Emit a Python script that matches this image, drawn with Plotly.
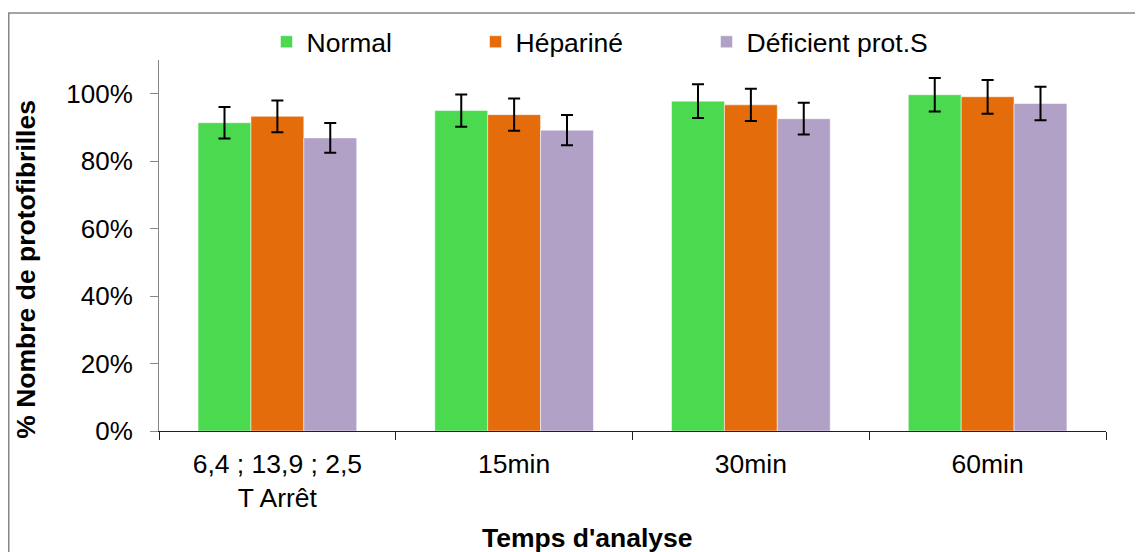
import plotly.graph_objects as go

categories = ["6,4 ; 13,9 ; 2,5<br>T Arrêt", "15min", "30min", "60min"]
series_names = ["Normal", "Hépariné", "Déficient prot.S"]
normal = [0.914, 0.950, 0.978, 0.997]
heparine = [0.933, 0.938, 0.967, 0.991]
deficient = [0.869, 0.892, 0.926, 0.971]
err_normal = [0.047, 0.048, 0.050, 0.050]
err_heparine = [0.047, 0.048, 0.048, 0.050]
err_deficient = [0.044, 0.045, 0.047, 0.050]
colors = ["#4AD94F", "#E46C0A", "#B2A1C7"]
x_title = "<b>Temps d'analyse</b>"
y_title = "<b>% Nombre de protofibrilles</b>"

FONT = "Liberation Sans, Arial, sans-serif"
FS = 26.5
FS_Y = 26

# page body has an 8px margin; work in figure coordinates = screen - 8
OFF = 8
W, H = 1143, 552
L, R, T, B = 159 - OFF, 1143 - (1106 - OFF), 60 - OFF, 552 - (431 - OFF)
pw, ph = W - L - R, H - T - B
x_axis_px = 431 - OFF


def px_x(sx):
    return (sx - OFF - L) / pw


def px_y(sy):
    return (x_axis_px - (sy - OFF)) / ph


legend_ids = ["legend", "legend2", "legend3"]
legend_px = [266.5, 475.5, 706.5]  # screen left pixel of each legend box

fig = go.Figure()
for name, vals, errs, col, lg in zip(series_names, [normal, heparine, deficient],
                                     [err_normal, err_heparine, err_deficient], colors, legend_ids):
    fig.add_trace(go.Bar(
        x=categories, y=vals, name=name, legend=lg,
        marker=dict(color=col, line=dict(color="rgba(255,255,255,0.5)", width=1)),
        error_y=dict(type="data", array=errs, visible=True, color="black",
                     thickness=2, width=6),
    ))

legend_common = dict(orientation="h", xanchor="left", yanchor="middle",
                     y=px_y(42), font=dict(size=FS, family=FONT),
                     bgcolor="rgba(0,0,0,0)", borderwidth=0)
layout_legends = {}
for lg, sx in zip(legend_ids, legend_px):
    layout_legends[lg] = dict(legend_common, x=px_x(sx))

fig.update_layout(
    width=W, height=H,
    margin=dict(l=L, r=R, t=T, b=B, autoexpand=False),
    paper_bgcolor="white", plot_bgcolor="white",
    barmode="group", bargap=0.33, bargroupgap=0,
    font=dict(family=FONT, size=FS, color="black"),
    showlegend=True,
    xaxis=dict(
        automargin=False,
        showline=True, linecolor="#202020", linewidth=1,
        ticks="outside", ticklen=8, tickcolor="#202020", tickson="boundaries",
        ticklabelstandoff=9,
        tickfont=dict(size=FS, family=FONT),
        showgrid=False,
    ),
    yaxis=dict(
        automargin=False,
        range=[0, 1.1], tickvals=[0, 0.2, 0.4, 0.6, 0.8, 1.0],
        tickformat=".0%",
        showline=True, linecolor="#868686", linewidth=1,
        ticks="outside", ticklen=8, tickcolor="#868686", ticklabelstandoff=12,
        tickfont=dict(size=FS_Y, family=FONT),
        showgrid=False, zeroline=False,
    ),
    annotations=[
        dict(text=x_title, xref="paper", yref="paper", x=px_x(587), y=px_y(537.5),
             xanchor="center", yanchor="middle", showarrow=False,
             font=dict(size=FS, family=FONT, color="black")),
        dict(text=y_title, xref="paper", yref="paper", x=px_x(25.7), y=px_y(269),
             xanchor="center", yanchor="middle", showarrow=False, textangle=-90,
             font=dict(size=FS, family=FONT, color="black")),
    ],
    shapes=[dict(type="rect", xref="paper", yref="paper",
                 x0=(0.75 - L) / pw, x1=(1170 - L) / pw,
                 y0=(x_axis_px - 580) / ph, y1=(x_axis_px - (13 - OFF)) / ph,
                 line=dict(color="#868686", width=1.5), fillcolor="rgba(0,0,0,0)", layer="below")],
    **layout_legends,
)

fig.write_html("out.html")
